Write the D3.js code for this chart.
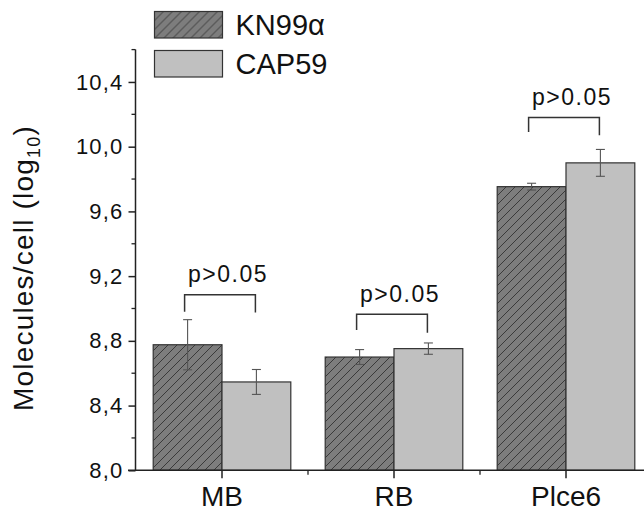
<!DOCTYPE html>
<html>
<head>
<meta charset="utf-8">
<script src="https://cdn.jsdelivr.net/npm/d3@7"></script>
<style>
  body { margin: 0; background: #fff; }
  svg { display: block; font-family: "Liberation Sans", Arial, sans-serif; }
</style>
</head>
<body>
<div id="chart"></div>
<script>
// data
const categories = ["MB", "RB", "Plce6"];
const seriesNames = ["KN99\u03b1", "CAP59"];
const kn99Values = [8.776, 8.700, 9.753];
const kn99Errors = [0.155, 0.046, 0.021];
const cap59Values = [8.546, 8.752, 9.900];
const cap59Errors = [0.077, 0.035, 0.083];
const yTicks = [8.0, 8.4, 8.8, 9.2, 9.6, 10.0, 10.4];
const yTickLabels = ["8,0", "8,4", "8,8", "9,2", "9,6", "10,0", "10,4"];
const pLabels = ["p>0.05", "p>0.05", "p>0.05"];
// significance brackets, in data units
const bracketTop = [9.085, 8.964, 10.18];
const bracketLeftEnd = [8.98, 8.867, 10.09];
const bracketRightEnd = [8.975, 8.85, 10.07];

const width = 644, height = 513;
const colors = ["#7d7d7d", "#c0c0c0"];

const svg = d3.select("#chart").append("svg")
    .attr("width", width)
    .attr("height", height);

const defs = svg.append("defs");
defs.append("pattern")
    .attr("id", "hatch")
    .attr("patternUnits", "userSpaceOnUse")
    .attr("width", 9)
    .attr("height", 9)
    .call(p => {
        p.append("rect").attr("width", 9).attr("height", 9).attr("fill", colors[0]);
        p.append("path")
            .attr("d", "M0,9 L9,0 M-2,2 L2,-2 M7,11 L11,7")
            .attr("stroke", "#3a3a3a")
            .attr("stroke-width", 1);
    });

const x = d3.scaleBand()
    .domain(categories)
    .range([136, 652]);

const xs = d3.scaleBand()
    .domain(seriesNames)
    .range([x.bandwidth() * 0.1, x.bandwidth() * 0.9]);

const y = d3.scaleLinear()
    .domain([8, 10.6])
    .range([470.3, 49.6]);

const series = [
    { name: seriesNames[0], values: kn99Values, errors: kn99Errors, fill: "url(#hatch)" },
    { name: seriesNames[1], values: cap59Values, errors: cap59Errors, fill: colors[1] }
];

// bars
series.forEach(s => {
    const g = svg.append("g");
    g.selectAll("rect")
        .data(categories)
        .join("rect")
        .attr("x", (c) => x(c) + xs(s.name))
        .attr("y", (c, i) => y(s.values[i]))
        .attr("width", xs.bandwidth())
        .attr("height", (c, i) => y(8) - y(s.values[i]))
        .attr("fill", s.fill)
        .attr("stroke", "#333")
        .attr("stroke-width", 1.2);

    // error bars
    const eb = g.selectAll("g.err")
        .data(categories)
        .join("g")
        .attr("class", "err")
        .attr("stroke", "#555")
        .attr("stroke-width", 1.1);
    const cx = c => x(c) + xs(s.name) + xs.bandwidth() / 2;
    eb.append("line")
        .attr("x1", cx).attr("x2", cx)
        .attr("y1", (c, i) => y(s.values[i] + s.errors[i]))
        .attr("y2", (c, i) => y(s.values[i] - s.errors[i]));
    eb.append("line")
        .attr("x1", c => cx(c) - 4.5).attr("x2", c => cx(c) + 4.5)
        .attr("y1", (c, i) => y(s.values[i] + s.errors[i]))
        .attr("y2", (c, i) => y(s.values[i] + s.errors[i]));
    eb.append("line")
        .attr("x1", c => cx(c) - 4.5).attr("x2", c => cx(c) + 4.5)
        .attr("y1", (c, i) => y(s.values[i] - s.errors[i]))
        .attr("y2", (c, i) => y(s.values[i] - s.errors[i]));
});

// brackets with p labels
const bx0 = c => x(c) + xs(seriesNames[0]) + xs.bandwidth() / 2 - 3;
const bx1 = c => x(c) + xs(seriesNames[1]) + xs.bandwidth() / 2 - 1;
svg.append("g")
    .selectAll("path")
    .data(categories)
    .join("path")
    .attr("d", (c, i) => `M${bx0(c)},${y(bracketLeftEnd[i])}V${y(bracketTop[i])}H${bx1(c)}V${y(bracketRightEnd[i])}`)
    .attr("fill", "none")
    .attr("stroke", "#333")
    .attr("stroke-width", 1.5);

svg.append("g")
    .selectAll("text")
    .data(categories)
    .join("text")
    .attr("x", c => x(c) + x.bandwidth() / 2 + 6)
    .attr("y", (c, i) => y(bracketTop[i]) - 12.5)
    .attr("text-anchor", "middle")
    .attr("font-size", 23)
    .attr("letter-spacing", 1.5)
    .attr("fill", "#111")
    .text((c, i) => pLabels[i]);

// y axis
const yAxis = svg.append("g")
    .attr("transform", "translate(135.5,0)");
yAxis.call(d3.axisLeft(y)
        .tickValues(yTicks)
        .tickSize(7)
        .tickPadding(5)
        .tickFormat((d, i) => yTickLabels[i]));
yAxis.selectAll(".minor")
    .data(d3.range(8.2, 10.61, 0.4))
    .join("line")
    .attr("class", "minor")
    .attr("x1", -4).attr("x2", 0)
    .attr("y1", d => y(d)).attr("y2", d => y(d))
    .attr("stroke", "#222")
    .attr("stroke-width", 1.3);
yAxis.select(".domain").attr("d", `M0,${y(10.6)}V${y(8)}`);

// x axis
const xAxis = svg.append("g")
    .attr("transform", `translate(0,${y(8)})`);
xAxis.call(d3.axisBottom(x).tickSize(8).tickPadding(8));
xAxis.selectAll(".minor")
    .data(categories)
    .join("line")
    .attr("class", "minor")
    .attr("x1", c => x(c) + x.bandwidth()).attr("x2", c => x(c) + x.bandwidth())
    .attr("y1", 0).attr("y2", 4.5)
    .attr("stroke", "#222")
    .attr("stroke-width", 1.3);
xAxis.select(".domain").attr("d", `M128,0H${width}`);

svg.selectAll(".domain, .tick line")
    .attr("stroke", "#222")
    .attr("stroke-width", 1.5);
yAxis.selectAll(".tick text")
    .attr("font-size", 22)
    .attr("letter-spacing", 1.2)
    .attr("fill", "#111")
    .attr("font-family", "Liberation Sans, Arial, sans-serif");
xAxis.selectAll(".tick text")
    .attr("font-size", 28)
    .attr("fill", "#111")
    .attr("font-family", "Liberation Sans, Arial, sans-serif");

// y axis title
const yTitle = svg.append("text")
    .attr("transform", "translate(33,268) rotate(-90)")
    .attr("text-anchor", "middle")
    .attr("font-size", 28)
    .attr("letter-spacing", 1.2)
    .attr("fill", "#111");
yTitle.append("tspan").text("Molecules/cell (log");
yTitle.append("tspan").attr("font-size", 18).attr("dy", 7).text("10");
yTitle.append("tspan").attr("dy", -7).text(")");

// legend
const legend = svg.append("g")
    .selectAll("g")
    .data(series)
    .join("g")
    .attr("transform", (d, i) => `translate(154.5,${11.5 + i * 39})`);
legend.append("rect")
    .attr("width", 68)
    .attr("height", 26.5)
    .attr("fill", d => d.fill)
    .attr("stroke", "#333")
    .attr("stroke-width", 1.2);
legend.append("text")
    .attr("x", 81)
    .attr("y", 23.5)
    .attr("font-size", 29)
    .attr("fill", "#111")
    .text(d => d.name);
</script>
</body>
</html>
